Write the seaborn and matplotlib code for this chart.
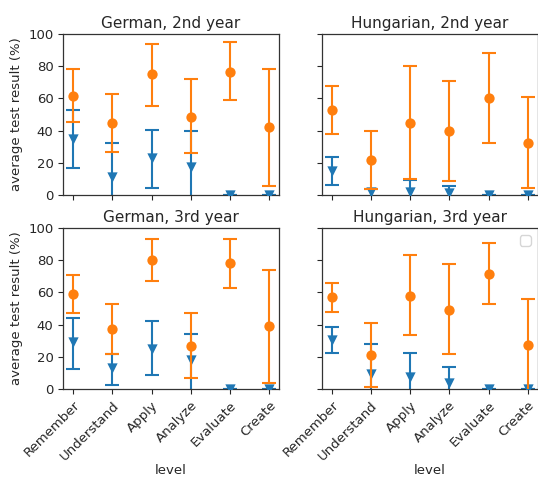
import numpy as np
import pandas as pd
import matplotlib
matplotlib.use("Agg")
import matplotlib.pyplot as plt
import seaborn as sns

levels = ["Remember", "Understand", "Apply", "Analyze", "Evaluate", "Create"]
titles = ["German, 2nd year", "Hungarian, 2nd year", "German, 3rd year", "Hungarian, 3rd year"]

# blue (triangle) series: center, lower, upper
blue_mid = [
    [35, 11, 23, 17.5, 0, 0],
    [15, 2, 2, 1.5, 0, 0],
    [29, 13, 25, 18, 0, 0],
    [30.5, 9.5, 7.5, 4, 0, 0],
]
blue_lo = [
    [17, -5, 4.5, -5, 0, 0],
    [6, -5, -5, -5, 0, 0],
    [12.5, 2.5, 8.5, -5, 0, 0],
    [22.5, -5, -5, -5, 0, 0],
]
blue_hi = [
    [53, 32.5, 40.5, 39.5, 0, 0],
    [23.5, 3.5, 9.5, 5.5, 0, 0],
    [44, 22, 42, 34, 0, 0],
    [38.5, 28, 22.5, 13.5, 0, 0],
]
# orange (circle) series: center, lower, upper
orange_mid = [
    [61.5, 45, 75, 48.5, 76.5, 42],
    [52.5, 21.5, 45, 39.5, 60.5, 32.5],
    [59, 37.5, 80, 27, 78, 39],
    [57, 21, 58, 49, 71.5, 27.5],
]
orange_lo = [
    [45.5, 26.5, 55.5, 26, 59, 5.5],
    [38, 4, 10, 8.5, 32.5, 4.5],
    [47, 21.5, 67, 7, 63, 4],
    [48, 1, 33.5, 21.5, 52.5, -5],
]
orange_hi = [
    [78, 63, 94, 72, 95, 78],
    [68, 40, 80, 71, 88.5, 61],
    [71, 53, 93, 47, 93, 74],
    [66, 41, 83, 77.5, 90.5, 56],
]

sns.set_style("ticks")
plt.rcParams["font.family"] = ["DejaVu Sans"]
plt.rcParams["axes.edgecolor"] = "#333333"

fig = plt.figure(figsize=(5.38, 4.79), dpi=100)
W = 215.6 / 538
H = 161 / 479
pos = [
    (63.3 / 538, 0.5929),
    (322 / 538, 0.5929),
    (63.3 / 538, 0.1879),
    (322 / 538, 0.1879),
]
x = np.arange(len(levels))
blue = "#1f77b4"
orange = "#ff7f0e"

for i in range(4):
    ax = fig.add_axes([pos[i][0], pos[i][1], W, H])
    bm = np.array(blue_mid[i]); bl = np.array(blue_lo[i]); bh = np.array(blue_hi[i])
    om = np.array(orange_mid[i]); ol = np.array(orange_lo[i]); oh = np.array(orange_hi[i])
    ax.errorbar(x, bm, yerr=[bm - bl, bh - bm], fmt="none", ecolor=blue,
                elinewidth=1.5, capsize=5, capthick=1.5, zorder=2)
    dfb = pd.DataFrame({"x": x, "y": bm})
    sns.scatterplot(data=dfb, x="x", y="y", marker="v", s=55, color=blue,
                    linewidth=0, ax=ax, legend=False, zorder=3)
    ax.errorbar(x, om, yerr=[om - ol, oh - om], fmt="none", ecolor=orange,
                elinewidth=1.5, capsize=5, capthick=1.5, zorder=4)
    dfo = pd.DataFrame({"x": x, "y": om})
    sns.scatterplot(data=dfo, x="x", y="y", marker="o", s=55, color=orange,
                    linewidth=0, ax=ax, legend=False, zorder=5)
    ax.set_xlim(-0.25, 5.25)
    ax.set_ylim(0, 100)
    ax.set_yticks([0, 20, 40, 60, 80, 100])
    ax.set_xticks(x)
    ax.set_title(titles[i], fontsize=11, pad=4)
    ax.tick_params(labelsize=9.5, length=3.5, width=0.8)
    for s in ax.spines.values():
        s.set_linewidth(0.9)
    if i % 2 == 0:
        ax.set_ylabel("average test result (%)", fontsize=9.5)
    else:
        ax.set_ylabel("")
        ax.set_yticklabels([])
    if i >= 2:
        ax.set_xticklabels(levels, rotation=45, ha="right", rotation_mode="anchor", fontsize=9.5)
        ax.set_xlabel("level", fontsize=9.5, labelpad=1)
    else:
        ax.set_xticklabels([])
        ax.set_xlabel("")
    if i == 3:
        ax.legend(handles=[], loc="upper right")

fig.savefig("out.png", dpi=100)
